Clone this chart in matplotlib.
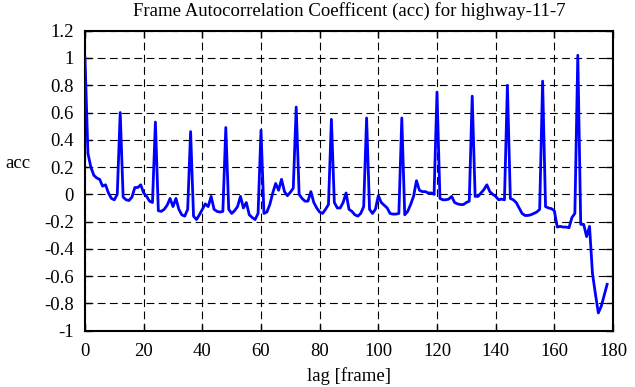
import numpy as np
import matplotlib
matplotlib.use('Agg')
import matplotlib.pyplot as plt

# frame autocorrelation coefficient, one value per lag 0..178
acc = [
    1.00, 0.30, 0.20, 0.14, 0.12, 0.11, 0.06, 0.07, 0.01, -0.03,
    -0.04, 0.00, 0.60, -0.02, -0.04, -0.045, -0.02, 0.05, 0.05, 0.07,
    0.01, -0.015, -0.05, -0.06, 0.53, -0.12, -0.125, -0.11, -0.08, -0.03,
    -0.09, -0.03, -0.11, -0.15, -0.16, -0.11, 0.46, -0.16, -0.185, -0.15,
    -0.11, -0.07, -0.09, -0.015, -0.11, -0.125, -0.13, -0.125, 0.49, -0.11,
    -0.14, -0.12, -0.09, -0.015, -0.10, -0.06, -0.15, -0.17, -0.185, -0.14,
    0.47, -0.14, -0.13, -0.075, 0.01, 0.08, 0.03, 0.11, 0.02, -0.01,
    0.015, 0.045, 0.64, 0.00, -0.03, -0.05, -0.05, 0.02, -0.06, -0.10,
    -0.13, -0.14, -0.11, -0.075, 0.55, -0.06, -0.10, -0.10, -0.06, 0.01,
    -0.11, -0.125, -0.15, -0.16, -0.14, -0.09, 0.56, -0.11, -0.14, -0.11,
    -0.01, -0.06, -0.08, -0.10, -0.14, -0.145, -0.145, -0.14, 0.56, -0.15,
    -0.125, -0.075, -0.015, 0.10, 0.03, 0.02, 0.02, 0.01, 0.01, 0.00,
    0.75, -0.03, -0.04, -0.04, -0.035, -0.015, -0.06, -0.07, -0.075, -0.075,
    -0.06, -0.05, 0.72, -0.015, -0.015, 0.01, 0.035, 0.07, 0.02, 0.00,
    -0.015, -0.04, -0.035, -0.04, 0.80, -0.03, -0.04, -0.06, -0.10, -0.14,
    -0.155, -0.155, -0.15, -0.14, -0.13, -0.11, 0.83, -0.09, -0.10, -0.105,
    -0.12, -0.24, -0.235, -0.24, -0.24, -0.245, -0.17, -0.14, 1.02, -0.22,
    -0.22, -0.31, -0.235, -0.58, -0.73, -0.87, -0.82, -0.74, -0.66,
]
lag = list(range(len(acc)))

x_ticks = [0, 20, 40, 60, 80, 100, 120, 140, 160, 180]
y_ticks = [-1, -0.8, -0.6, -0.4, -0.2, 0, 0.2, 0.4, 0.6, 0.8, 1, 1.2]

plt.rcParams['font.family'] = ['Liberation Serif', 'DejaVu Serif']
fs = 13.5

fig = plt.figure(figsize=(6.35, 3.87), dpi=100)
ax = fig.add_axes([85 / 635, 1 - 330.7 / 387, (613 - 85) / 635, 300 / 387])

ax.plot(lag, acc, color='#0000ff', lw=2, zorder=3)

ax.set_xlim(0, 180)
ax.set_ylim(-1, 1.2)
ax.set_xticks(x_ticks)
ax.set_yticks(y_ticks)
ax.set_xticklabels([f"{t:g}" for t in x_ticks], fontsize=fs)
ax.set_yticklabels([f"{t:g}" for t in y_ticks], fontsize=fs)
ax.tick_params(direction='in', length=5, width=1, top=True, right=True)
ax.tick_params(axis='x', pad=9)
ax.tick_params(axis='y', pad=8)

ax.grid(True, color='black', lw=0.8, linestyle=(0, (7, 4)))
ax.set_axisbelow(True)
for s in ax.spines.values():
    s.set_linewidth(1.5)

# title placed explicitly above the frame
fig.text(0.5 * (85 + 613) / 635, 1 - 11 / 387,
         'Frame Autocorrelation Coefficent (acc) for highway-11-7',
         fontsize=fs, ha='center', va='center')
ax.set_xlabel('lag [frame]', fontsize=fs, labelpad=5)
ax.set_ylabel('acc', fontsize=fs, rotation=0, labelpad=0)
ax.yaxis.set_label_coords(-0.127, 0.53)

fig.savefig('out.png', dpi=100)
